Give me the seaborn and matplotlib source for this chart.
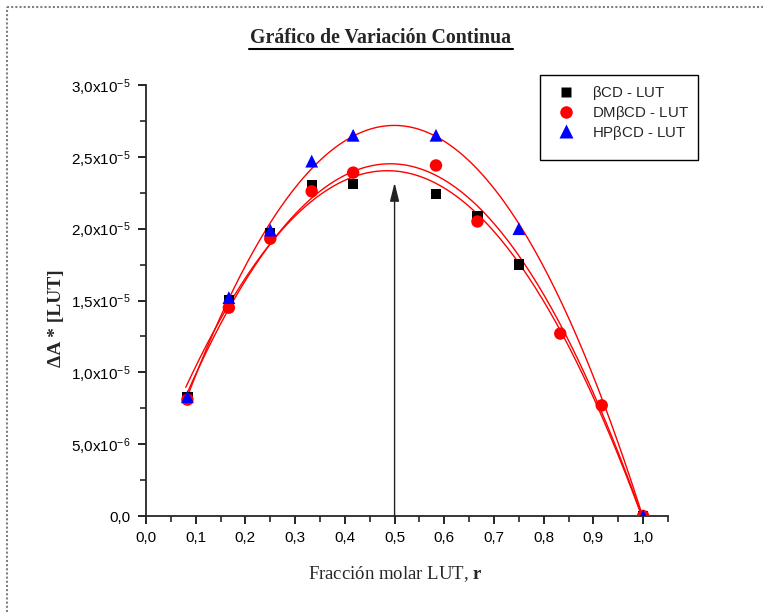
import numpy as np
import pandas as pd
import seaborn as sns
import matplotlib
matplotlib.use("Agg")
import matplotlib.pyplot as plt
from matplotlib.lines import Line2D
from matplotlib.patches import Rectangle
from matplotlib.ticker import MultipleLocator, FixedLocator, FixedFormatter

# ---- data ----
x_bcd = [0.0833, 0.1667, 0.25, 0.3333, 0.4167, 0.5833, 0.6667, 0.75, 1.0]
y_bcd = [0.828e-5, 1.50e-5, 1.97e-5, 2.30e-5, 2.31e-5, 2.24e-5, 2.09e-5, 1.75e-5, 0.0]

x_dm = [0.0833, 0.1667, 0.25, 0.3333, 0.4167, 0.5833, 0.6667, 0.8333, 0.9167, 1.0]
y_dm = [0.81e-5, 1.45e-5, 1.93e-5, 2.26e-5, 2.39e-5, 2.44e-5, 2.05e-5, 1.27e-5, 0.77e-5, 0.0]

x_hp = [0.0833, 0.1667, 0.25, 0.3333, 0.4167, 0.5833, 0.75, 1.0]
y_hp = [0.83e-5, 1.52e-5, 1.99e-5, 2.47e-5, 2.65e-5, 2.65e-5, 2.00e-5, 0.0]

labels = [r"$\beta$CD - LUT", r"DM$\beta$CD - LUT", r"HP$\beta$CD - LUT"]
ytick_vals = [0.0, 0.5e-5, 1.0e-5, 1.5e-5, 2.0e-5, 2.5e-5, 3.0e-5]
ytick_labels = ["0,0", r"5,0x10$^{-6}$", r"1,0x10$^{-5}$", r"1,5x10$^{-5}$",
                r"2,0x10$^{-5}$", r"2,5x10$^{-5}$", r"3,0x10$^{-5}$"]
xtick_vals = [0.0, 0.1, 0.2, 0.3, 0.4, 0.5, 0.6, 0.7, 0.8, 0.9, 1.0]
xtick_labels = ["0,0", "0,1", "0,2", "0,3", "0,4", "0,5", "0,6", "0,7", "0,8", "0,9", "1,0"]
arrow_x, arrow_top = 0.5, 2.32e-5

sns.set_style("ticks")
plt.rcParams["font.family"] = ["Liberation Sans", "DejaVu Sans"]
plt.rcParams["mathtext.fontset"] = "custom"
plt.rcParams["mathtext.rm"] = "Liberation Sans"
plt.rcParams["mathtext.it"] = "Liberation Sans"
plt.rcParams["mathtext.bf"] = "Liberation Serif:bold"

fig = plt.figure(figsize=(7.63, 6.12), dpi=100)
ax = fig.add_axes([146/763, 1-516/612, (668-146)/763, (516-85)/612])

series = [
    (pd.DataFrame({"x": x_bcd, "y": y_bcd}), "black", "s", 55),
    (pd.DataFrame({"x": x_dm, "y": y_dm}), "red", "o", 80),
    (pd.DataFrame({"x": x_hp, "y": y_hp}), "blue", "^", 85),
]

# fitted curves (2nd order polynomial)
xf = np.linspace(0.08, 1.0, 200)
for d, _, _, _ in series:
    c = np.polyfit(d["x"], d["y"], 2)
    ax.plot(xf, np.polyval(c, xf), color="red", lw=1.0, zorder=2)

for d, col, mk, sz in series:
    sns.scatterplot(data=d, x="x", y="y", color=col, marker=mk, s=sz,
                    edgecolor="none", ax=ax, legend=False, zorder=3)

ax.annotate("", xy=(arrow_x, arrow_top), xytext=(arrow_x, 0),
            arrowprops=dict(arrowstyle="-|>,head_width=0.2,head_length=0.8",
                            color="#222222", lw=1.0, mutation_scale=14,
                            shrinkA=0, shrinkB=0), zorder=1)

ax.set_xlim(0, 1.05)
ax.set_ylim(0, 3.0e-5)
ax.xaxis.set_major_locator(FixedLocator(xtick_vals))
ax.xaxis.set_major_formatter(FixedFormatter(xtick_labels))
ax.xaxis.set_minor_locator(MultipleLocator(0.05))
ax.yaxis.set_major_locator(FixedLocator(ytick_vals))
ax.yaxis.set_major_formatter(FixedFormatter(ytick_labels))
ax.yaxis.set_minor_locator(MultipleLocator(0.25e-5))
ax.tick_params(which="major", direction="out", length=6, width=1.2, labelsize=11,
               colors="black", pad=5)
ax.tick_params(which="minor", direction="out", length=4, width=1.2)
for sp in ["top", "right"]:
    ax.spines[sp].set_visible(False)
for sp in ["left", "bottom"]:
    ax.spines[sp].set_linewidth(1.3)

ax.set_xlabel(r"Fracción molar LUT, $\mathbf{r}$", family="Liberation Serif", fontsize=13.5)
ax.xaxis.set_label_coords((395-146)/522, (516-574)/431)
ax.xaxis.label.set_va("center")
ax.set_ylabel(r"ΔA * [LUT]", family="Liberation Serif", fontweight="bold", fontsize=14)
ax.yaxis.set_label_coords((57-146)/522, (516-318)/431)
ax.yaxis.label.set_va("center")

# legend (frame drawn manually to keep the Origin-style empty bottom)
fig.add_artist(Rectangle((540/763, 1-160/612), (698-540)/763, (160-75)/612,
                         transform=fig.transFigure, fill=False, edgecolor="black", lw=1.0))
handles = [Line2D([], [], ls="none", marker=m, color=c, markersize=ms, markeredgecolor="none")
           for m, c, ms in zip(["s", "o", "^"], ["black", "red", "blue"], [7.5, 9, 9.5])]
leg = fig.legend(handles, labels, loc="upper left", bbox_to_anchor=(551/763, 1-81/612),
                 frameon=False, fontsize=10.8, borderpad=0.2, handletextpad=0.9,
                 handlelength=1.6, labelspacing=0.12, borderaxespad=0)

# title
fig.text(381/763, 1-38/612, "Gráfico de Variación Continua", ha="center", va="center",
         family="Liberation Serif", fontweight="bold", fontsize=14.3)
fig.add_artist(Line2D([249/763, 513/763], [1-49/612, 1-49/612], color="black", lw=1.5))

# dotted page border
fig.add_artist(Line2D([7/763, 1.0], [1-7/612, 1-7/612], color="gray", lw=1.5, ls=(0, (1, 1))))
fig.add_artist(Line2D([7/763, 7/763], [0, 1-7/612], color="gray", lw=1.5, ls=(0, (1, 1))))

fig.savefig("out.png", dpi=100)
